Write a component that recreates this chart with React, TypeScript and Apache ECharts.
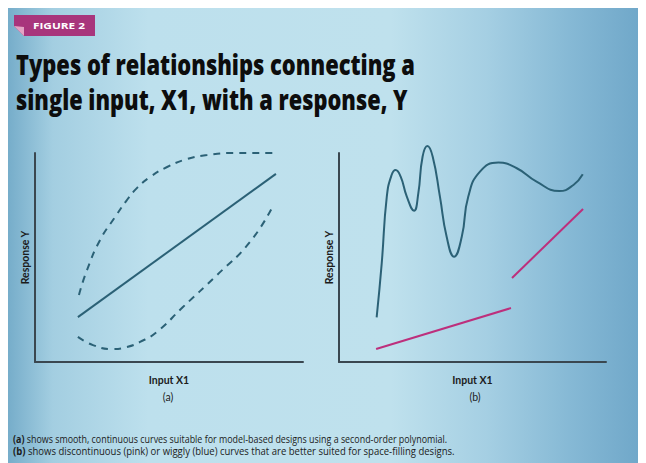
import React, { useEffect, useRef } from "react";
import * as echarts from "echarts";

// ---- Data (x and y run 0..10 in each panel) ----
const titleLines = [
  "Types of relationships connecting a",
  "single input, X1, with a response, Y",
];
const badgeText = "FIGURE 2";
const xAxisName = "Input X1";
const yAxisName = "Response Y";
const panelLabels = ["(a)", "(b)"];
const captionTags = ["(a)", "(b)"];
const captionTexts = [
  "shows smooth, continuous curves suitable for model-based designs using a second-order polynomial.",
  "shows discontinuous (pink) or wiggly (blue) curves that are better suited for space-filling designs.",
];

// Panel (a)
const linearFit: number[][] = [
  [1.6, 2.15],
  [8.99, 9.0],
];
const upperBound: number[][] = [
  [1.64, 3.21], [1.94, 4.4], [2.43, 5.84], [2.99, 6.94], [3.43, 7.75],
  [3.81, 8.33], [4.29, 8.85], [4.93, 9.33], [5.67, 9.71], [6.42, 9.9],
  [7.39, 10.0], [8.88, 10.0],
];
const lowerBound: number[][] = [
  [1.6, 1.2], [2.16, 0.81], [2.87, 0.62], [3.43, 0.72], [3.92, 0.96],
  [4.55, 1.44], [5.52, 2.63], [6.79, 4.16], [8.02, 5.74], [8.88, 7.46],
];

// Panel (b)
const wigglyCurve: number[][] = [
  [1.41, 2.14], [1.6, 4.72], [1.79, 7.91], [1.97, 8.95], [2.12, 9.19],
  [2.31, 8.87], [2.54, 7.91], [2.81, 7.24], [2.97, 8.07], [3.13, 9.82],
  [3.31, 10.33], [3.51, 9.82], [3.78, 7.91], [4.03, 6.0], [4.31, 5.04],
  [4.6, 6.0], [4.84, 7.91], [5.28, 9.11], [5.97, 9.54], [6.66, 9.27],
  [7.4, 8.63], [8.25, 8.18], [8.78, 8.47], [9.13, 8.98],
];
const pinkSegment1: number[][] = [
  [1.39, 0.62],
  [6.44, 2.58],
];
const pinkSegment2: number[][] = [
  [6.48, 4.02],
  [9.14, 7.32],
];

const TEAL = "#2b6176";
const PINK = "#bd2f7c";
const AXIS = "#3a4750";
const HEAD_FONT = "Open Sans";
const LABEL_FONT = "Lato";

function measure(text: string, font: string): number {
  const c = document.createElement("canvas").getContext("2d");
  if (!c) return text.length * 6;
  c.font = font;
  return c.measureText(text).width;
}

export default function App() {
  const ref = useRef<HTMLDivElement>(null);

  useEffect(() => {
    if (!ref.current) return;
    const chart = echarts.init(ref.current, undefined, { renderer: "svg" });

    // horizontal condensing so the texts keep the reference's widths
    const titleSize = 29;
    const titleWeight = 800;
    const titleTargets = [399, 392];
    const titleScales = titleLines.map(
      (t, i) => titleTargets[i] / measure(t, `${titleWeight} ${titleSize}px "${HEAD_FONT}"`)
    );
    const capSize = 10.5;
    const capTargets = [435, 442];
    const capScales = captionTexts.map((t, i) => {
      const w =
        measure(captionTags[i] + " ", `bold ${capSize}px "${HEAD_FONT}"`) +
        measure(t, `${capSize}px "${HEAD_FONT}"`);
      return capTargets[i] / w;
    });
    const badgeSize = 8.5;
    const badgeScale = 52 / measure(badgeText, `bold ${badgeSize}px "${HEAD_FONT}"`);

    const axisCommon = {
      type: "value" as const,
      min: 0,
      max: 10,
      axisLine: { show: true, onZero: false, lineStyle: { color: AXIS, width: 2 } },
      axisTick: { show: false },
      axisLabel: { show: false },
      splitLine: { show: false },
    };
    const xName = {
      name: xAxisName,
      nameLocation: "middle" as const,
      nameGap: 12,
      nameTextStyle: { fontFamily: LABEL_FONT, fontWeight: "bold", fontSize: 10.5, color: "#1c1c1c" },
    };
    const yName = {
      name: yAxisName,
      nameLocation: "middle" as const,
      nameGap: 5,
      nameTextStyle: { fontFamily: LABEL_FONT, fontWeight: "bold", fontSize: 10.5, color: "#1c1c1c" },
    };

    const captionGraphics = captionTexts.map((t, i) => ({
      type: "text",
      x: 5,
      y: 431 + i * 11.5,
      scaleX: capScales[i],
      style: {
        text: "{b|" + captionTags[i] + "} " + t,
        fill: "#1c1c1c", fontFamily: HEAD_FONT, fontSize: capSize, verticalAlign: "middle",
        rich: { b: { fontWeight: "bold", fontFamily: HEAD_FONT, fontSize: capSize, fill: "#1c1c1c" } },
      },
    }));

    const titleGraphics = titleLines.map((t, i) => ({
      type: "text",
      x: 8,
      y: 56 + i * 35,
      scaleX: titleScales[i],
      style: {
        text: t, fill: "#0d0d0d", fontFamily: HEAD_FONT, fontWeight: titleWeight, fontSize: titleSize,
        verticalAlign: "middle",
      },
    }));

    chart.setOption({
      animation: false,
      backgroundColor: new echarts.graphic.LinearGradient(0, 0, 1, 0, [
        { offset: 0, color: "#76adca" },
        { offset: 0.07, color: "#a3cee1" },
        { offset: 0.22, color: "#bde0ed" },
        { offset: 0.6, color: "#bfe1ed" },
        { offset: 0.75, color: "#a5cfe3" },
        { offset: 0.88, color: "#86b9d5" },
        { offset: 1, color: "#6ea6c8" },
      ]),
      grid: [
        { left: 27, top: 145, width: 268, height: 209 },
        { left: 331, top: 145, width: 267, height: 209 },
      ],
      xAxis: [
        { ...axisCommon, ...xName, gridIndex: 0 },
        { ...axisCommon, ...xName, gridIndex: 1 },
      ],
      yAxis: [
        { ...axisCommon, ...yName, gridIndex: 0 },
        { ...axisCommon, ...yName, gridIndex: 1 },
      ],
      series: [
        {
          type: "line", xAxisIndex: 0, yAxisIndex: 0, data: linearFit, showSymbol: false, clip: false,
          lineStyle: { color: TEAL, width: 2 },
        },
        {
          type: "line", xAxisIndex: 0, yAxisIndex: 0, data: upperBound, showSymbol: false, smooth: 0.5, clip: false,
          lineStyle: { color: TEAL, width: 2, type: [7, 6] },
        },
        {
          type: "line", xAxisIndex: 0, yAxisIndex: 0, data: lowerBound, showSymbol: false, smooth: 0.5, clip: false,
          lineStyle: { color: TEAL, width: 2, type: [7, 6] },
        },
        {
          type: "line", xAxisIndex: 1, yAxisIndex: 1, data: wigglyCurve, showSymbol: false, smooth: 0.5, clip: false,
          lineStyle: { color: TEAL, width: 2 },
        },
        {
          type: "line", xAxisIndex: 1, yAxisIndex: 1, data: pinkSegment1, showSymbol: false, clip: false,
          lineStyle: { color: PINK, width: 2 },
        },
        {
          type: "line", xAxisIndex: 1, yAxisIndex: 1, data: pinkSegment2, showSymbol: false, clip: false,
          lineStyle: { color: PINK, width: 2 },
        },
      ],
      graphic: [
        {
          type: "polygon",
          shape: { points: [[6, 7], [87, 7], [87, 28], [16, 28], [6, 18]] },
          style: { fill: "#a8357c" },
        },
        {
          type: "polygon",
          shape: { points: [[6, 18], [16, 19], [16, 28]] },
          style: { fill: "#e3a3c4" },
        },
        {
          type: "text",
          x: 25,
          y: 17.5,
          scaleX: badgeScale,
          style: {
            text: badgeText, fill: "#ffffff", fontFamily: HEAD_FONT, fontWeight: "bold",
            fontSize: badgeSize, verticalAlign: "middle",
          },
        },
        ...titleGraphics,
        {
          type: "text",
          x: 160,
          y: 389,
          style: {
            text: panelLabels[0], fill: "#1c1c1c", fontFamily: LABEL_FONT, fontSize: 10.5, align: "center",
            verticalAlign: "middle",
          },
        },
        {
          type: "text",
          x: 467,
          y: 389,
          style: {
            text: panelLabels[1], fill: "#1c1c1c", fontFamily: LABEL_FONT, fontSize: 10.5, align: "center",
            verticalAlign: "middle",
          },
        },
        ...captionGraphics,
      ],
    });

    return () => chart.dispose();
  }, []);

  return <div ref={ref} style={{ width: 638, height: 455 }} />;
}
